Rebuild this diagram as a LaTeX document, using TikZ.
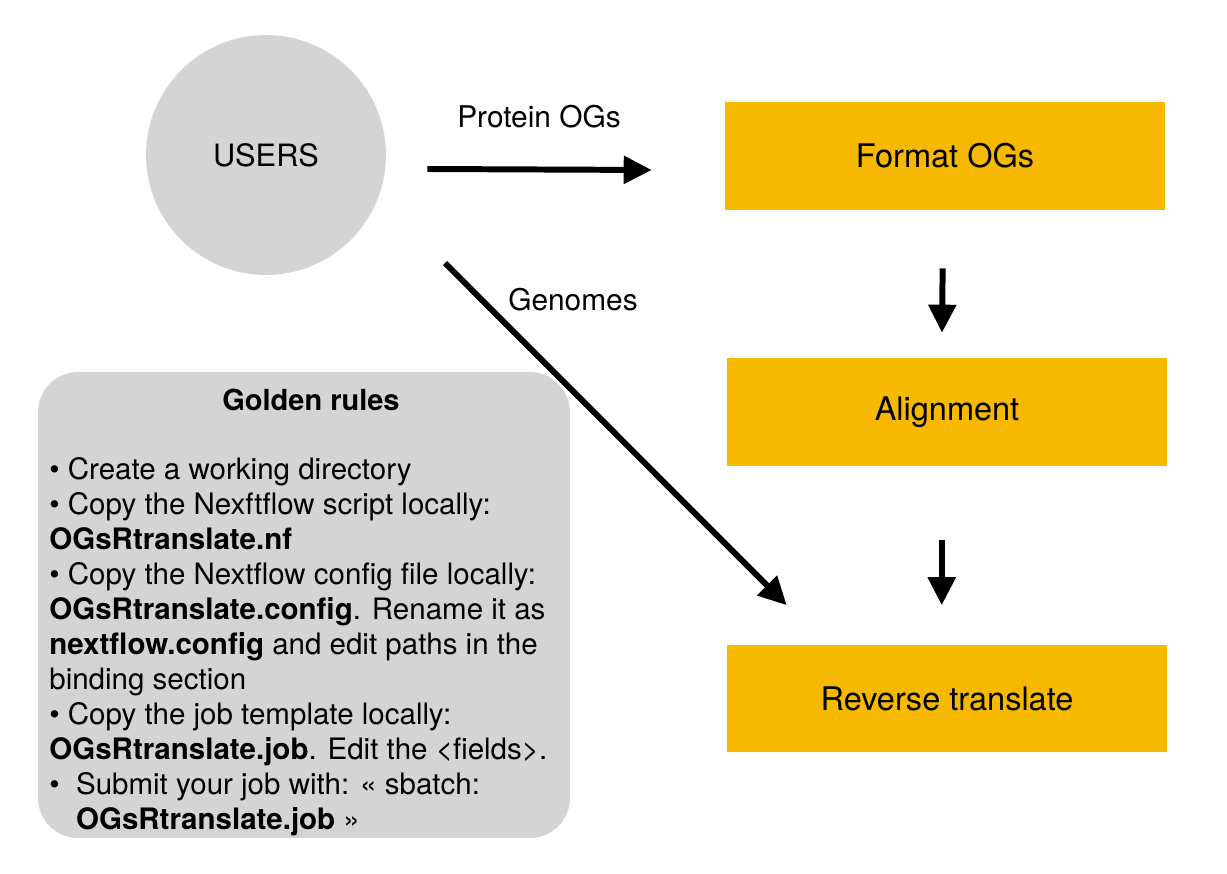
\documentclass[tikz,border=0pt]{standalone}
\usepackage{fontspec}
\setmainfont{TeX Gyre Heros}
\usetikzlibrary{arrows.meta}

\definecolor{ogsgold}{RGB}{246,185,0}
\definecolor{ogsgray}{RGB}{212,212,212}

\begin{document}
\begin{tikzpicture}[x=0.02cm, y=-0.02cm,
    taskbox/.style={fill=ogsgold, minimum width=8.8cm, minimum height=2.16cm,
      font=\fontsize{18.5}{22}\selectfont},
    flowlabel/.style={font=\fontsize{17}{20}\selectfont},
    flow/.style={line width=3.4pt, -{Triangle[length=0.56cm, width=0.54cm]}}]

    % Canvas
    \useasboundingbox[fill=white]
      (0,0) rectangle (1227,874);

    % Users
    \node[circle, fill=ogsgray, minimum size=4.8cm, inner sep=0pt,
      font=\fontsize{17.5}{21}\selectfont] (users)
      at (266,155) {USERS};

    % Pipeline steps
    \node[taskbox] (format) at (945,156) {Format OGs};
    \node[taskbox] (align) at (947,412) {Alignment};
    \node[taskbox] (reverse) at (947,698.5) {Reverse translate};

    % Inputs
    \draw[flow]
      ([shift={(41,14)}]users.east) -- ([shift={(-73,14)}]format.west);
    \node[flowlabel] (protlbl) at (539,117) {Protein OGs};

    \draw[flow]
      ([shift={(94,23)}]users.south east) -- ([shift={(60,-39)}]reverse.north west);
    \node[flowlabel] (genlbl) at (573,300) {Genomes};

    % Steps in order
    \draw[flow, shorten <=1.16cm, shorten >=0.5cm]
      ([xshift=-1]format.south) -- ([xshift=-3]align.north);
    \draw[flow, shorten <=1.48cm, shorten >=0.78cm]
      ([xshift=-3]align.south) -- ([xshift=-3]reverse.north);

    % Golden rules
    \node[fill=ogsgray, rounded corners=0.8cm, minimum width=10.64cm,
      minimum height=9.32cm] (rules) at (304,605) {};
    \node[font=\fontsize{16.5}{19.9}\selectfont\bfseries] (rulestitle)
      at (311,400) {Golden rules};
    \node[font=\fontsize{16.8}{19.9}\selectfont, align=left, inner sep=0pt,
      anchor=north west] (rulesbody) at (49,457)
      {\textbullet{} Create a working directory\\
       \textbullet{} Copy the Nexftflow script locally:\\
       \textbf{OGsRtranslate.nf}\\
       \textbullet{} Copy the Nextflow config file locally:\\
       \textbf{OGsRtranslate.config}. Rename it as\\
       \textbf{nextflow.config} and edit paths in the\\
       binding section\\
       \textbullet{} Copy the job template locally:\\
       \textbf{OGsRtranslate.job}. Edit the <fields>.\\
       \textbullet\ \ Submit your job with: « sbatch:\\
       \hphantom{\textbullet\ \ }\textbf{OGsRtranslate.job} »};
\end{tikzpicture}
\end{document}
